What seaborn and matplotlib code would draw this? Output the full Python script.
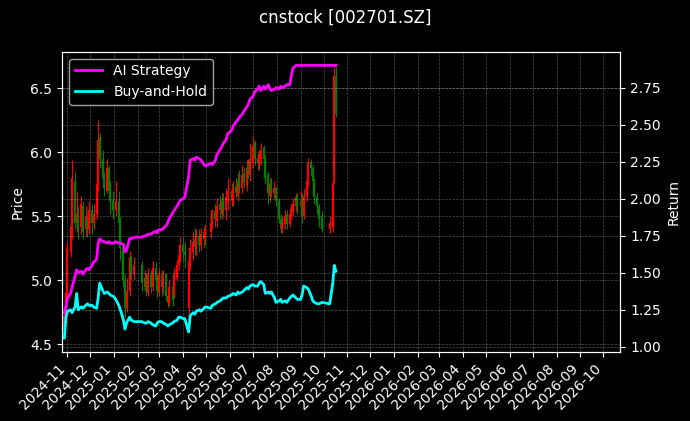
import numpy as np
import pandas as pd
import matplotlib
matplotlib.use("Agg")
import matplotlib.pyplot as plt
import matplotlib.dates as mdates
import seaborn as sns

# =============================================================================
# DATA (one bar per two trading days, 2024-10-28 .. 2025-10-17)
# =============================================================================

ticker_title = "cnstock [002701.SZ]"

bar_open = [
    4.62, 4.75,
    4.90, 5.22, 5.38, 5.78, 5.45, 5.50, 5.42, 5.58, 5.40, 5.48, 5.40,
    5.55, 5.45, 5.52, 5.75, 6.12, 5.95, 5.80, 5.70, 5.88, 5.70, 5.62,
    5.55, 5.62, 5.45, 5.25, 5.00, 4.78, 4.92, 5.18, 5.05,
    5.12, 4.95, 5.02, 4.90, 5.05, 4.95, 5.10, 5.00, 4.90,
    5.05, 4.95, 5.05, 4.88, 4.82, 4.95, 4.88, 5.02, 5.12, 5.18,
    5.28, 5.22, 4.78, 5.12, 5.22, 5.32, 5.26, 5.35, 5.28, 5.38,
    5.32, 5.38, 5.44, 5.54, 5.46, 5.60, 5.52, 5.64, 5.55, 5.62,
    5.70, 5.60, 5.74, 5.66, 5.80, 5.72, 5.84, 5.74, 5.90, 5.82,
    5.92, 6.08, 5.96, 5.90, 5.95, 6.04, 5.96, 5.82, 5.66, 5.76, 5.68,
    5.72, 5.62, 5.48, 5.40, 5.44, 5.52, 5.44, 5.50, 5.54, 5.58, 5.66,
    5.58, 5.64, 5.50, 5.66, 5.78, 5.92, 5.88, 5.78, 5.65, 5.58, 5.50,
    5.40, 5.42, 5.80, 6.60,
]
bar_close = [
    4.72, 4.90,
    5.25, 5.42, 5.80, 5.45, 5.52, 5.40, 5.60, 5.38, 5.50, 5.42, 5.55,
    5.45, 5.52, 5.75, 6.10, 5.95, 5.80, 5.72, 5.88, 5.70, 5.62, 5.55,
    5.62, 5.45, 5.25, 5.00, 4.78, 4.92, 5.18, 5.05, 5.12,
    4.98, 5.02, 4.92, 5.05, 4.95, 5.10, 5.00, 4.92, 5.05,
    4.95, 5.05, 4.88, 4.82, 4.95, 4.85, 5.05, 5.12, 5.20, 5.28,
    5.22, 5.20, 5.15, 5.25, 5.30, 5.26, 5.35, 5.28, 5.36, 5.32,
    5.40, 5.45, 5.52, 5.48, 5.58, 5.55, 5.62, 5.56, 5.65, 5.70,
    5.62, 5.72, 5.68, 5.78, 5.74, 5.82, 5.76, 5.88, 5.84, 5.95,
    6.05, 5.95, 5.92, 5.98, 6.02, 5.95, 5.80, 5.68, 5.75, 5.70, 5.72,
    5.62, 5.48, 5.40, 5.45, 5.50, 5.44, 5.52, 5.56, 5.60, 5.65, 5.58,
    5.62, 5.50, 5.66, 5.78, 5.92, 5.88, 5.78, 5.65, 5.58, 5.48, 5.40,
    5.45, 5.76, 6.60, 6.30,
]
bar_high = [
    4.80, 4.97,
    5.30, 5.50, 5.94, 5.85, 5.70, 5.58, 5.66, 5.62, 5.58, 5.52, 5.62,
    5.60, 5.60, 5.90, 6.25, 6.15, 6.02, 5.85, 5.95, 5.90, 5.78, 5.70,
    5.78, 5.70, 5.50, 5.30, 5.05, 5.02, 5.23, 5.20, 5.18,
    5.15, 5.08, 5.06, 5.10, 5.08, 5.15, 5.14, 5.04, 5.10,
    5.08, 5.08, 5.06, 4.92, 5.00, 4.98, 5.10, 5.16, 5.25, 5.34,
    5.34, 5.30, 5.20, 5.32, 5.38, 5.41, 5.40, 5.40, 5.41, 5.42,
    5.44, 5.55, 5.56, 5.60, 5.64, 5.66, 5.68, 5.68, 5.72, 5.80,
    5.76, 5.78, 5.80, 5.84, 5.86, 5.90, 5.88, 5.94, 5.95, 6.07,
    6.13, 6.10, 6.00, 6.02, 6.07, 6.06, 5.98, 5.85, 5.80, 5.80, 5.78,
    5.74, 5.64, 5.52, 5.50, 5.55, 5.55, 5.56, 5.60, 5.64, 5.68, 5.68,
    5.70, 5.68, 5.72, 5.84, 5.96, 5.95, 5.90, 5.80, 5.68, 5.60, 5.54,
    5.50, 5.80, 6.68, 6.67,
]
bar_low = [
    4.55, 4.70,
    4.85, 5.18, 5.32, 5.40, 5.38, 5.32, 5.36, 5.32, 5.35, 5.34, 5.36,
    5.36, 5.40, 5.48, 5.70, 5.88, 5.72, 5.66, 5.68, 5.65, 5.52, 5.48,
    5.50, 5.40, 5.16, 4.95, 4.71, 4.75, 4.88, 5.00, 5.00,
    4.92, 4.92, 4.88, 4.88, 4.90, 4.92, 4.96, 4.86, 4.88,
    4.88, 4.90, 4.85, 4.79, 4.80, 4.80, 4.86, 5.00, 5.08, 5.14,
    5.15, 5.10, 4.74, 5.08, 5.16, 5.20, 5.20, 5.22, 5.24, 5.26,
    5.28, 5.33, 5.40, 5.42, 5.42, 5.48, 5.48, 5.50, 5.47, 5.55,
    5.58, 5.58, 5.64, 5.62, 5.68, 5.68, 5.72, 5.70, 5.80, 5.78,
    5.88, 5.90, 5.86, 5.86, 5.90, 5.90, 5.76, 5.60, 5.62, 5.65, 5.64,
    5.58, 5.45, 5.37, 5.37, 5.40, 5.40, 5.42, 5.48, 5.50, 5.54, 5.52,
    5.50, 5.45, 5.48, 5.62, 5.74, 5.82, 5.74, 5.60, 5.52, 5.42, 5.38,
    5.37, 5.38, 5.76, 6.28,
]

ai_strategy = [
    1.23, 1.27,
    1.33, 1.36, 1.40, 1.48, 1.52, 1.50, 1.51, 1.49, 1.52, 1.53, 1.52,
    1.55, 1.57, 1.59, 1.70, 1.73, 1.71, 1.71, 1.70, 1.71, 1.70, 1.70,
    1.71, 1.70, 1.70, 1.69, 1.64, 1.65, 1.73, 1.73, 1.74,
    1.74, 1.75, 1.75, 1.76, 1.76, 1.77, 1.78, 1.77, 1.79,
    1.79, 1.80, 1.82, 1.84, 1.87, 1.90, 1.92, 1.95, 1.97, 1.99,
    2.00, 2.01, 2.15, 2.26, 2.27, 2.26, 2.28, 2.27, 2.26, 2.23,
    2.22, 2.24, 2.23, 2.26, 2.30, 2.33, 2.35, 2.37, 2.40, 2.44,
    2.46, 2.49, 2.52, 2.53, 2.55, 2.57, 2.59, 2.62, 2.64, 2.67,
    2.69, 2.72, 2.74, 2.76, 2.73, 2.76, 2.74, 2.77, 2.74, 2.73, 2.74,
    2.75, 2.74, 2.76, 2.75, 2.76, 2.77, 2.77, 2.83, 2.88, 2.90, 2.90,
    2.90, 2.90, 2.90, 2.90, 2.90, 2.90, 2.90, 2.90, 2.90, 2.90, 2.90,
    2.90, 2.90, 2.90, 2.90,
]
buy_and_hold = [
    1.06, 1.20,
    1.24, 1.25, 1.23, 1.27, 1.36, 1.25, 1.27, 1.26, 1.28, 1.29, 1.28,
    1.28, 1.27, 1.26, 1.33, 1.43, 1.38, 1.36, 1.37, 1.36, 1.35, 1.34,
    1.32, 1.28, 1.25, 1.18, 1.12, 1.16, 1.20, 1.18, 1.17,
    1.17, 1.16, 1.16, 1.17, 1.16, 1.15, 1.14, 1.16, 1.17,
    1.17, 1.16, 1.15, 1.14, 1.15, 1.16, 1.17, 1.18, 1.20, 1.20,
    1.19, 1.19, 1.10, 1.21, 1.23, 1.22, 1.24, 1.25, 1.24, 1.26,
    1.27, 1.26, 1.28, 1.29, 1.30, 1.31, 1.32, 1.33, 1.33, 1.34,
    1.35, 1.36, 1.35, 1.37, 1.36, 1.37, 1.38, 1.40, 1.39, 1.41,
    1.42, 1.41, 1.41, 1.43, 1.44, 1.42, 1.36, 1.37, 1.36, 1.37, 1.33,
    1.30, 1.31, 1.32, 1.30, 1.31, 1.30, 1.33, 1.34, 1.35, 1.33, 1.32,
    1.32, 1.35, 1.41, 1.40, 1.39, 1.34, 1.31, 1.30, 1.29, 1.29, 1.30,
    1.29, 1.43, 1.55, 1.51,
]

holidays = [
    "2025-01-01", "2025-01-28", "2025-01-29", "2025-01-30", "2025-01-31",
    "2025-02-03", "2025-02-04", "2025-04-04", "2025-05-01", "2025-05-02",
    "2025-05-05", "2025-06-02", "2025-10-01", "2025-10-02", "2025-10-03",
    "2025-10-06", "2025-10-07", "2025-10-08",
]

# =============================================================================
# DATES
# =============================================================================

trading_days = pd.bdate_range("2024-10-28", "2025-10-17")
trading_days = trading_days[~trading_days.isin(pd.to_datetime(holidays))]

idx = np.round(np.linspace(0, len(trading_days) - 1, len(bar_close))).astype(int)
dates = trading_days[idx]

df = pd.DataFrame({
    "date": dates,
    "open": bar_open,
    "close": bar_close,
    "high": bar_high,
    "low": bar_low,
    "ai": ai_strategy,
    "bh": buy_and_hold,
})

up = df["close"] >= df["open"]
colors = np.where(up, "red", "green")

# =============================================================================
# PLOT
# =============================================================================

plt.style.use("dark_background")

fig, ax1 = plt.subplots(figsize=(6.9, 4.21), dpi=100)
fig.subplots_adjust(left=0.09, right=0.899, top=0.877, bottom=0.165)

# Candles
ax1.vlines(df["date"], df["low"], df["high"], colors=colors, linewidth=0.8)
ax1.vlines(df["date"], df[["open", "close"]].min(axis=1),
           df[["open", "close"]].max(axis=1), colors=colors, linewidth=1.6)
ax1.set_ylabel("Price")
ax1.grid(True, linestyle="--", linewidth=0.5, alpha=0.3)

# Returns
ax2 = ax1.twinx()
sns.lineplot(data=df, x="date", y="ai", ax=ax2, color="magenta",
             linewidth=2, label="AI Strategy")
sns.lineplot(data=df, x="date", y="bh", ax=ax2, color="cyan",
             linewidth=2, label="Buy-and-Hold")
ax2.set_ylabel("Return")
ax2.grid(True, linestyle="--", linewidth=0.5, alpha=0.3)
ax2.legend(loc="upper left")

ax1.set_xlim(pd.Timestamp("2024-10-25"), pd.Timestamp("2026-10-23"))
ax1.xaxis.set_major_locator(mdates.MonthLocator())
ax1.xaxis.set_major_formatter(mdates.DateFormatter("%Y-%m"))
ax1.set_xlabel("")
ax2.set_xlabel("")
plt.setp(ax1.get_xticklabels(), rotation=45, ha="right")

fig.suptitle(ticker_title, fontsize=12)

plt.savefig("out.png", dpi=100)
plt.close()
